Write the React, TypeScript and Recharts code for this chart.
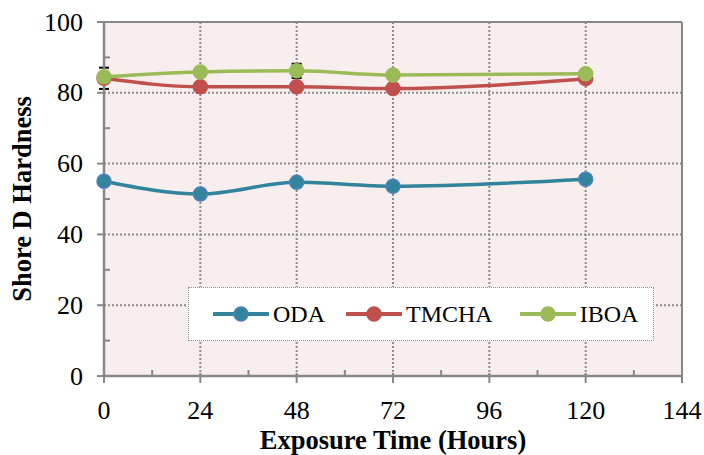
import { LineChart, Line, XAxis, YAxis, CartesianGrid, Legend, ErrorBar, ReferenceLine } from 'recharts';

// exposure time in hours
const hours = [0, 24, 48, 72, 120];
const oda = [55.0, 51.4, 54.7, 53.6, 55.6];
const tmcha = [84.1, 81.7, 81.7, 81.2, 84.0];
const iboa = [84.5, 85.9, 86.2, 85.0, 85.4];
// std dev, only where bars are visible
const odaErr = [null, 1, null, null, null];
const tmchaErr = [3, null, null, null, null];
const iboaErr = [null, null, 2, null, null];

const seriesOrder = ['ODA', 'TMCHA', 'IBOA'];
const xTicks = [0, 12, 24, 36, 48, 60, 72, 84, 96, 108, 120, 132, 144];
const yTicks = [0, 10, 20, 30, 40, 50, 60, 70, 80, 90, 100];

const data = hours.map((h, i) => ({
  hours: h,
  ODA: oda[i],
  TMCHA: tmcha[i],
  IBOA: iboa[i],
  odaErr: odaErr[i],
  tmchaErr: tmchaErr[i],
  iboaErr: iboaErr[i],
}));

const font = '"Liberation Serif", "Times New Roman", serif';
const axisGray = '#878787';

const XTick = ({ x, y, payload }: any) => {
  const major = payload.value % 24 === 0;
  return (
    <g>
      {major ? (
        <line x1={x} x2={x} y1={y - 3} y2={y + 7} stroke={axisGray} strokeWidth={2} />
      ) : (
        <line x1={x} x2={x} y1={y - 6} y2={y} stroke={axisGray} strokeWidth={2} />
      )}
      {major && (
        <text x={x} y={y + 34} textAnchor="middle" dominantBaseline="central" fontSize={26} fontFamily={font} fill="#000">
          {payload.value}
        </text>
      )}
    </g>
  );
};

const YTick = ({ x, y, payload }: any) => {
  const major = payload.value % 20 === 0;
  return (
    <g>
      {major ? (
        <line x1={x - 7} x2={x + 1} y1={y} y2={y} stroke={axisGray} strokeWidth={2} />
      ) : (
        <line x1={x} x2={x + 6} y1={y} y2={y} stroke={axisGray} strokeWidth={2} />
      )}
      {major && (
        <text x={x - 21} y={y} textAnchor="end" dominantBaseline="central" fontSize={26} fontFamily={font} fill="#000">
          {payload.value}
        </text>
      )}
    </g>
  );
};

const legendMarker: Record<string, string> = {
  ODA: '#4F81BD',
  TMCHA: '#C0504D',
  IBOA: '#9BBB59',
};

const legendGap: Record<string, number> = { ODA: 21, TMCHA: 27, IBOA: 0 };

const LegendContent = ({ payload }: any) => {
  const items = [...(payload || [])].sort(
    (a: any, b: any) => seriesOrder.indexOf(a.value) - seriesOrder.indexOf(b.value)
  );
  return (
    <div
      style={{
        width: 466,
        height: 54,
        background: '#fff',
        border: '1px dotted #8a8a8a',
        display: 'flex',
        alignItems: 'center',
        paddingLeft: 24,
        boxSizing: 'border-box',
        fontFamily: font,
        fontSize: 24,
      }}
    >
      {items.map((p: any) => (
        <div key={p.value} style={{ display: 'flex', alignItems: 'center', marginRight: legendGap[p.value] }}>
          <svg width={56} height={18} style={{ marginRight: 4 }}>
            <line x1={1} x2={55} y1={9} y2={9} stroke={p.color} strokeWidth={4} strokeLinecap="round" />
            <circle cx={28} cy={9} r={7} fill={p.color} stroke={legendMarker[p.value]} strokeWidth={1.5} />
          </svg>
          <span>{p.value}</span>
        </div>
      ))}
    </div>
  );
};

export default function App() {
  return (
    <div style={{ position: 'absolute', left: 0, top: 0, width: 704, height: 455, background: '#fff' }}>
      <LineChart width={704} height={455} data={data} margin={{ top: 22, right: 22, left: 0, bottom: 0 }}>
        <CartesianGrid
          fill="#F9EEEE"
          stroke="#8c8c8c"
          strokeWidth={2}
          strokeDasharray="2 2"
          horizontalValues={[20, 40, 60, 80]}
          verticalValues={[24, 48, 72, 96, 120]}
        />
        <ReferenceLine y={100} stroke={axisGray} strokeWidth={2} />
        <ReferenceLine x={144} stroke={axisGray} strokeWidth={2} />
        <XAxis
          dataKey="hours"
          type="number"
          domain={[0, 144]}
          ticks={xTicks}
          interval={0}
          height={79}
          tickSize={0}
          tickMargin={0}
          tickLine={false}
          axisLine={{ stroke: axisGray, strokeWidth: 2.5 }}
          tick={<XTick />}
          label={{
            content: ({ viewBox }: any) => (
              <text
                x={viewBox.x + viewBox.width / 2}
                y={viewBox.y + 64}
                textAnchor="middle"
                dominantBaseline="central"
                fontSize={26.5}
                fontWeight="bold"
                fontFamily={font}
                fill="#000"
              >
                Exposure Time (Hours)
              </text>
            ),
          }}
        />
        <YAxis
          type="number"
          domain={[0, 100]}
          ticks={yTicks}
          interval={0}
          width={104}
          tickSize={0}
          tickMargin={0}
          tickLine={false}
          axisLine={{ stroke: axisGray, strokeWidth: 2.5 }}
          tick={<YTick />}
          label={{
            content: ({ viewBox }: any) => {
              const cx = viewBox.x + 22;
              const cy = viewBox.y + viewBox.height / 2;
              return (
                <text
                  x={cx}
                  y={cy}
                  transform={`rotate(-90, ${cx}, ${cy})`}
                  textAnchor="middle"
                  dominantBaseline="central"
                  fontSize={26.5}
                  fontWeight="bold"
                  fontFamily={font}
                  fill="#000"
                >
                  Shore D Hardness
                </text>
              );
            },
          }}
        />
        <Legend
          layout="horizontal"
          verticalAlign="middle"
          align="center"
          content={<LegendContent />}
          wrapperStyle={{ left: 188, top: 287, width: 466, height: 54 }}
        />
        <Line
          dataKey="ODA"
          type="monotone"
          stroke="#31849B"
          strokeWidth={3.5}
          dot={{ r: 7, fill: '#31859C', stroke: '#4F81BD', strokeWidth: 1.5 }}
          activeDot={false}
          isAnimationActive={false}
        >
          <ErrorBar dataKey="odaErr" width={5} stroke="#000" strokeWidth={2} direction="y" />
        </Line>
        <Line
          dataKey="TMCHA"
          type="monotone"
          stroke="#C0504D"
          strokeWidth={3.5}
          dot={{ r: 7, fill: '#C0504D', stroke: '#C0504D', strokeWidth: 1.5 }}
          activeDot={false}
          isAnimationActive={false}
        >
          <ErrorBar dataKey="tmchaErr" width={5} stroke="#000" strokeWidth={2} direction="y" />
        </Line>
        <Line
          dataKey="IBOA"
          type="monotone"
          stroke="#9BBB59"
          strokeWidth={3.5}
          dot={{ r: 7, fill: '#9BBB59', stroke: '#9BBB59', strokeWidth: 1.5 }}
          activeDot={false}
          isAnimationActive={false}
        >
          <ErrorBar dataKey="iboaErr" width={5} stroke="#000" strokeWidth={2} direction="y" />
        </Line>
      </LineChart>
    </div>
  );
}
